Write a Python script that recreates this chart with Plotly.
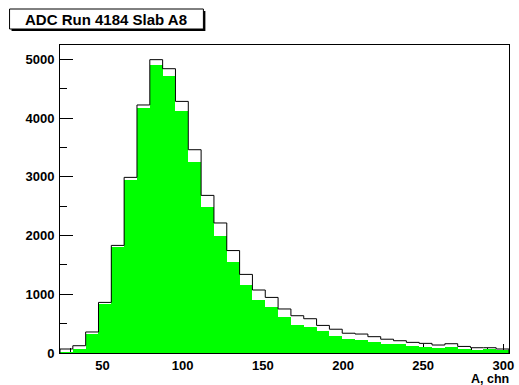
import plotly.graph_objects as go

# Histogram binning (ADC channels)
x_min = 23.5
bin_width = 8.0
n_bins = 35

# Counts per bin: all events (outline) and selected events (filled)
counts_all = [68, 124, 358, 862, 1833, 2992, 4225, 4997, 4843, 4286,
              3463, 2685, 2215, 1745, 1339, 1073, 947, 750, 635, 584,
              470, 405, 337, 323, 278, 235, 209, 181, 164, 136,
              158, 112, 90, 90, 68]
counts_sel = [15, 62, 317, 828, 1811, 2952, 4167, 4900, 4712, 4128,
              3259, 2492, 1993, 1550, 1163, 896, 789, 607, 482, 443,
              368, 287, 244, 220, 190, 161, 147, 124, 107, 78,
              95, 68, 56, 61, 51]

y_ticks = [0, 1000, 2000, 3000, 4000, 5000]
x_ticks = [50, 100, 150, 200, 250, 300]

x_max = x_min + n_bins * bin_width
y_max = 1.05 * max(counts_all)

edges = [x_min + i * bin_width for i in range(n_bins + 1)]
centers = [x_min + (i + 0.5) * bin_width for i in range(n_bins)]

# step outline: up from zero, across each bin, back down to zero
step_x = [edges[0]] + edges[:-1] + [edges[-1], edges[-1]]
step_y = [0] + counts_all + [counts_all[-1], 0]

W, H = 519, 385
ML, MR, MT, MB = 60, 5, 45, 32
PW, PH = W - ML - MR, H - MT - MB

def px(x):
    return (x - ML) / PW

def py(y):
    return (H - MB - y) / PH

label_font = dict(family="Liberation Sans, Arial, sans-serif", size=13,
                  color="black", weight="bold")

fig = go.Figure()
fig.add_trace(go.Scatter(
    x=step_x, y=step_y, mode="lines", line_shape="hv",
    line=dict(color="black", width=1), hoverinfo="skip", showlegend=False,
))
fig.add_trace(go.Bar(
    x=centers, y=counts_sel, width=bin_width,
    marker=dict(color="#00ff00", line=dict(width=0)),
    showlegend=False,
))

fig.update_layout(
    width=W, height=H,
    margin=dict(l=ML, r=MR, t=MT, b=MB, pad=0),
    paper_bgcolor="white", plot_bgcolor="white",
    bargap=0, showlegend=False,
    xaxis=dict(
        range=[x_min, x_max], tickvals=x_ticks, ticktext=[str(v) for v in x_ticks],
        ticks="inside", ticklen=9, tickwidth=1, tickcolor="black",
        minor=dict(dtick=10, tick0=0, ticks="inside", ticklen=5, tickcolor="black"),
        showline=True, linecolor="black", linewidth=1, mirror=True,
        showgrid=False, zeroline=False, layer="below traces",
        tickfont=label_font, ticklabelstandoff=0, ticklabeloverflow="allow",
    ),
    yaxis=dict(
        range=[0, y_max], tickvals=y_ticks, ticktext=[str(v) for v in y_ticks],
        ticks="inside", ticklen=13, tickwidth=1, tickcolor="black",
        minor=dict(dtick=500, tick0=0, ticks="inside", ticklen=7, tickcolor="black"),
        showline=True, linecolor="black", linewidth=1, mirror=True,
        showgrid=False, zeroline=False,
        tickfont=label_font, ticklabelstandoff=2, ticklabeloverflow="allow",
    ),
    shapes=[
        # title box with drop shadow
        dict(type="rect", xref="paper", yref="paper",
             x0=px(11), x1=px(207), y0=py(31), y1=py(11),
             fillcolor="black", line=dict(width=0), layer="above"),
        dict(type="rect", xref="paper", yref="paper",
             x0=px(9), x1=px(205), y0=py(29), y1=py(9),
             fillcolor="white", line=dict(color="black", width=1), layer="above"),
    ],
    annotations=[
        dict(text="ADC Run 4184 Slab A8", xref="paper", yref="paper",
             x=px(107), y=py(19.5), xanchor="center", yanchor="middle",
             showarrow=False,
             font=dict(family="Liberation Sans, Arial, sans-serif", size=15,
                       color="black", weight="bold")),
        dict(text="A, chn", xref="paper", yref="paper",
             x=px(515), y=py(387), xanchor="right", yanchor="bottom",
             showarrow=False, borderpad=0,
             font=dict(family="Liberation Sans, Arial, sans-serif", size=12.5,
                       color="black", weight="bold")),
    ],
)

fig.write_html("out.html")
